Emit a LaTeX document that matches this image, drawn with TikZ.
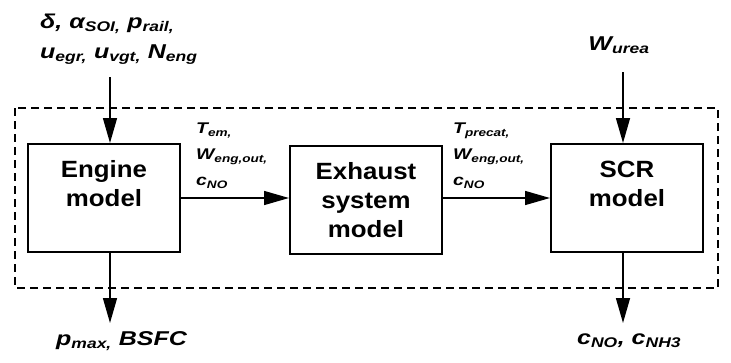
\documentclass[tikz,border=0pt]{standalone}
\usepackage{fontspec}
\setmainfont[FakeStretch=1.25]{Liberation Sans}
\newfontfamily\blockfont[FakeStretch=1.1]{Liberation Sans}
\usetikzlibrary{arrows.meta}
\tikzset{
  block/.style={draw, line width=2pt, minimum width=152pt, minimum height=108pt,
    align=center, font=\blockfont\bfseries\fontsize{23.5}{29}\selectfont},
  frame/.style={draw, line width=1.8pt, dash pattern=on 8pt off 5pt},
  flow/.style={line width=1.5pt, -{Triangle[length=25pt,width=14pt]}},
  iolabel/.style={align=left, inner sep=0pt, font=\bfseries\itshape\fontsize{20}{30}\selectfont},
  sigs/.style={align=left, inner sep=0pt, font=\bfseries\itshape\fontsize{15.5}{26}\selectfont}
}
\begin{document}
\begin{tikzpicture}[x=1pt,y=-1pt]
  \useasboundingbox (0,0) rectangle (731,362);
  % dashed frame round the models
  \draw [frame] (15,108) rectangle (718,288);
  % the three models
  \node [block] (engine) at (104,198) {Engine\\model\\\mbox{}};
  \node [block] (exhaust) at (366,200) {Exhaust\\system\\model};
  \node [block] (scr) at (627,198) {SCR\\model\\\mbox{}};
  % inputs
  \node [iolabel, anchor=north west] (inputs) at (40,14)
    {δ, α\textsubscript{SOI,} p\textsubscript{rail,}\\u\textsubscript{egr,} u\textsubscript{vgt,} N\textsubscript{eng}};
  \coordinate (engin) at (110,77);
  \node [iolabel] (urea) at (619,45) {W\textsubscript{urea}};
  \coordinate (scrin) at (623,72);
  % signals between models
  \node [sigs, anchor=north west] (gas1) at (196,123)
    {T\textsubscript{em,}\\W\textsubscript{eng,out,}\\c\textsubscript{NO}};
  \node [sigs, anchor=north west] (gas2) at (453,123)
    {T\textsubscript{precat,}\\W\textsubscript{eng,out,}\\c\textsubscript{NO}};
  % outputs
  \coordinate (engout) at (110,323);
  \coordinate (scrout) at (623,323);
  \node [iolabel, anchor=west] (perf) at (56,341) {p\textsubscript{max,} BSFC};
  \node [iolabel, anchor=west] (emis) at (577,341) {c\textsubscript{NO}, c\textsubscript{NH3}};
  % connectors
  \draw [flow] (engin) -- (engin |- engine.north);
  \draw [flow] (scrin) -- (scrin |- scr.north);
  \draw [flow] (engine.east) -- (exhaust.west |- engine.east);
  \draw [flow] (exhaust.east |- scr.west) -- (scr.west);
  \draw [flow] (engout |- engine.south) -- (engout);
  \draw [flow] (scrout |- scr.south) -- (scrout);
\end{tikzpicture}
\end{document}
